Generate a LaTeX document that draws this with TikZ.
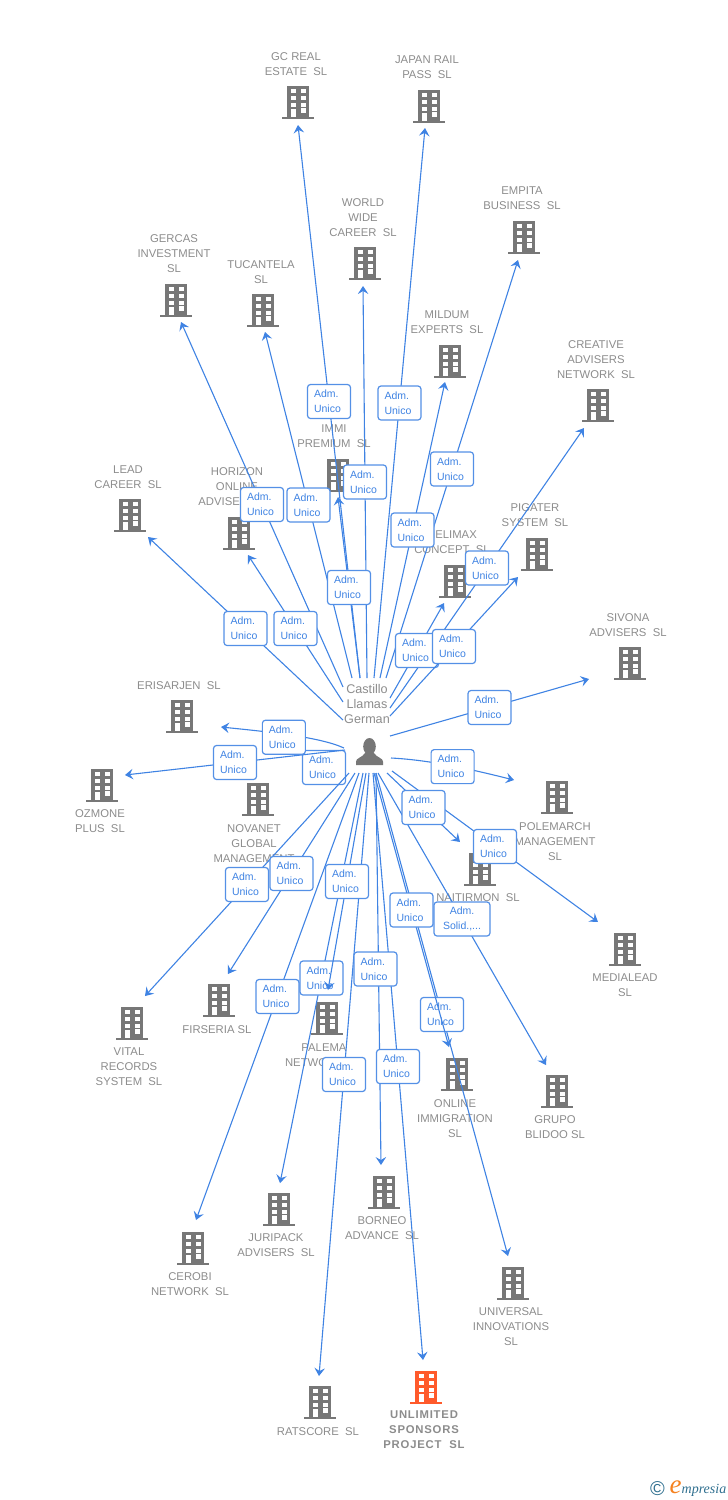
\documentclass[tikz,border=0pt]{standalone}
\usepackage{fontspec}
\setmainfont{Liberation Sans}
\newfontfamily\boldlbl{Liberation Sans}[LetterSpace=7]
\newfontfamily\logofont{Liberation Serif}
\usetikzlibrary{arrows.meta}

\definecolor{bldgray}{HTML}{777777}
\definecolor{bldorange}{HTML}{FF5A2B}
\definecolor{txtgray}{HTML}{8C8C8C}
\definecolor{edgeblue}{HTML}{3F83E3}
\definecolor{boxblue}{HTML}{5490E6}
\definecolor{logoblue}{HTML}{2F6F8F}
\definecolor{logoorange}{HTML}{F58220}

\tikzset{
  building/.style={minimum width=32pt,minimum height=34pt,inner sep=0pt,
    path picture={
      \begin{scope}[shift={(path picture bounding box.center)}]
        \fill[#1] (-11,-16) rectangle (11,16);
        \fill[#1] (-16,15) rectangle (16,17);
        \foreach \wy in {-12.4,-5.7,1.6} {
          \fill[white] (-6.9,\wy) rectangle (-2.5,\wy+3.8);
          \fill[white] (2.5,\wy) rectangle (7.5,\wy+3.8);
        }
        \fill[white] (-6.9,7.8) rectangle (-2.5,15);
        \fill[white] (2.5,6.8) rectangle (7.5,11.4);
      \end{scope}
    }},
  building/.default=bldgray,
  personicon/.style={minimum width=28pt,minimum height=28pt,inner sep=0pt,
    path picture={
      \begin{scope}[shift={(path picture bounding box.center)}]
        \fill[bldgray] (0,-5) ellipse (6.3 and 8.5);
        \fill[bldgray] (-13.5,13.5) -- (-13.5,10) .. controls (-13.5,6.5) and (-7,6) .. (-4,1)
          -- (4,1) .. controls (7,6) and (13.5,6.5) .. (13.5,10) -- (13.5,13.5) -- cycle;
      \end{scope}
    }},
  lbl/.style={text=txtgray,align=center,inner sep=0pt,yshift=-0.7pt,font=\fontsize{11.3}{15}\selectfont},
  mainlbl/.style={lbl,font=\boldlbl\bfseries\fontsize{11.3}{15}\selectfont},
  personlbl/.style={lbl,font=\fontsize{12.6}{15}\selectfont},
  edge/.style={edgeblue,line width=1.1pt,-{Stealth[length=8pt,width=10.5pt,inset=3pt]}},
  adm/.style={draw=boxblue,fill=white,line width=1.2pt,rounded corners=3pt,text=edgeblue,
    minimum height=34pt,inner ysep=0pt,inner xsep=6.5pt,text width=30pt,align=left,
    font=\fontsize{10.5}{15}\selectfont},
  admsol/.style={adm,inner xsep=6pt,text width=44pt,align=center}
}

\begin{document}
\begin{tikzpicture}[x=1pt,y=-1pt]
  \useasboundingbox (0,0) rectangle (728,1500);

  % companies
  \node (gc) at (298,101.5) [building] {};
  \node (gcl) at (296,63.5) [lbl] {GC REAL\\ESTATE\ \ SL};
  \node (japan) at (429,105.5) [building] {};
  \node (japanl) at (427,66.5) [lbl] {JAPAN RAIL\\PASS\ \ SL};
  \node (world) at (365,262.5) [building] {};
  \node (worldl) at (363,217) [lbl] {WORLD\\WIDE\\CAREER\ \ SL};
  \node (empita) at (524,236.5) [building] {};
  \node (empital) at (522,197.5) [lbl] {EMPITA\\BUSINESS\ \ SL};
  \node (gercas) at (176,299.5) [building] {};
  \node (gercasl) at (174,253) [lbl] {GERCAS\\INVESTMENT\\SL};
  \node (tucan) at (263,309.5) [building] {};
  \node (tucanl) at (261,271.5) [lbl] {TUCANTELA\\SL};
  \node (mildum) at (450,360.5) [building] {};
  \node (mildual) at (447,321.5) [lbl] {MILDUM\\EXPERTS\ \ SL};
  \node (creative) at (598,404.5) [building] {};
  \node (creativel) at (596,359) [lbl] {CREATIVE\\ADVISERS\\NETWORK\ \ SL};
  \node (immi) at (338,474.5) [building] {};
  \node (immil) at (334,435.5) [lbl] {IMMI\\PREMIUM\ \ SL};
  \node (lead) at (130,514.5) [building] {};
  \node (leadl) at (128,476.5) [lbl] {LEAD\\CAREER\ \ SL};
  \node (horizon) at (239,532.5) [building] {};
  \node (horizonl) at (237,486) [lbl] {HORIZON\\ONLINE\\ADVISERS\ \ SL};
  \node (pigater) at (537,553.5) [building] {};
  \node (pigaterl) at (535,514.5) [lbl] {PIGATER\\SYSTEM\ \ SL};
  \node (helimax) at (455,580.5) [building] {};
  \node (helimaxl) at (452,541.5) [lbl] {HELIMAX\\CONCEPT\ \ SL};
  \node (sivona) at (630,662.5) [building] {};
  \node (sivonal) at (628,624.5) [lbl] {SIVONA\\ADVISERS\ \ SL};
  \node (erisar) at (182,715.5) [building] {};
  \node (erisarl) at (179,685) [lbl] {ERISARJEN\ \ SL};
  \node (ozmone) at (102,784.5) [building] {};
  \node (ozmonel) at (100,820.5) [lbl] {OZMONE\\PLUS\ \ SL};
  \node (novanet) at (258,798.5) [building] {};
  \node (novanetl) at (254,843) [lbl] {NOVANET\\GLOBAL\\MANAGEMENT};
  \node (polem) at (557,796.5) [building] {};
  \node (poleml) at (555,841) [lbl] {POLEMARCH\\MANAGEMENT\\SL};
  \node (nait) at (480,868.5) [building] {};
  \node (naitl) at (478,897) [lbl] {NAITIRMON\ \ SL};
  \node (media) at (625,948.5) [building] {};
  \node (medial) at (625,984.5) [lbl] {MEDIALEAD\\SL};
  \node (vital) at (132,1022.5) [building] {};
  \node (vitall) at (129,1066) [lbl] {VITAL\\RECORDS\\SYSTEM\ \ SL};
  \node (firs) at (219,999.5) [building] {};
  \node (firsl) at (217,1029) [lbl] {FIRSERIA SL};
  \node (palema) at (327,1017.5) [building] {};
  \node (palemal) at (324,1054.5) [lbl] {PALEMA\\NETWORK\ \ SL};
  \node (online) at (457,1073.5) [building] {};
  \node (onlinel) at (455,1118) [lbl] {ONLINE\\IMMIGRATION\\SL};
  \node (grupo) at (557,1090.5) [building] {};
  \node (grupol) at (555,1126.5) [lbl] {GRUPO\\BLIDOO SL};
  \node (juri) at (279,1208.5) [building] {};
  \node (juril) at (276,1244.5) [lbl] {JURIPACK\\ADVISERS\ \ SL};
  \node (borneo) at (384,1191.5) [building] {};
  \node (borneol) at (382,1227.5) [lbl] {BORNEO\\ADVANCE\ \ SL};
  \node (cerobi) at (193,1247.5) [building] {};
  \node (cerobil) at (190,1283.5) [lbl] {CEROBI\\NETWORK\ \ SL};
  \node (univ) at (513,1282.5) [building] {};
  \node (univl) at (511,1326) [lbl] {UNIVERSAL\\INNOVATIONS\\SL};
  \node (rats) at (320,1401.5) [building] {};
  \node (ratsl) at (318,1431) [lbl] {RATSCORE\ \ SL};
  \node (unlim) at (426,1386.5) [building=bldorange] {};
  \node (unliml) at (424,1429) [mainlbl] {UNLIMITED\\SPONSORS\\PROJECT\ \ SL};

  % person
  \node (person) at (369.5,751.5) [personicon] {};
  \node (personl) at (367,703) [personlbl] {Castillo\\Llamas\\German};

  % ends of the connectors
  \coordinate (gca) at (360,678);      \coordinate (gcb) at (298,125);
  \coordinate (japana) at (374,678);   \coordinate (japanb) at (425,128);
  \coordinate (worlda) at (367,678);   \coordinate (worldb) at (363,286);
  \coordinate (empitaa) at (386,678);  \coordinate (empitab) at (518,260);
  \coordinate (gercasa) at (343,687);  \coordinate (gercasb) at (181,322);
  \coordinate (tucana) at (352,678);   \coordinate (tucanb) at (265,332);
  \coordinate (mildua) at (380,678);   \coordinate (mildub) at (445,382);
  \coordinate (creata) at (390,708);   \coordinate (creatb) at (584,428);
  \coordinate (immia) at (360,678);    \coordinate (immib) at (338,497);
  \coordinate (leada) at (343,720);    \coordinate (leadb) at (148,537);
  \coordinate (horiza) at (343,702);   \coordinate (horizb) at (248,555);
  \coordinate (pigata) at (390,716);   \coordinate (pigatb) at (518,577);
  \coordinate (helima) at (390,698);   \coordinate (helimb) at (444,603);
  \coordinate (sivona1) at (390,736);  \coordinate (sivonb) at (589,679);
  \coordinate (erisa) at (344,748);    \coordinate (erisb) at (221,727);
  \coordinate (ozma) at (345,750);     \coordinate (ozmb) at (125,775);
  \coordinate (nova) at (345,757);     \coordinate (novb) at (303,778);
  \coordinate (polema) at (391,758);   \coordinate (polemb) at (514,780);
  \coordinate (naita) at (387,773);    \coordinate (naitb) at (460,842);
  \coordinate (mediaa) at (392,771);   \coordinate (mediab) at (598,922);
  \coordinate (vitala) at (349,773);   \coordinate (vitalb) at (145,996);
  \coordinate (firsa) at (355,773);    \coordinate (firsb) at (228,974);
  \coordinate (palea) at (366,773);    \coordinate (paleb) at (328,990);
  \coordinate (onla) at (374,773);     \coordinate (onlb) at (449,1047);
  \coordinate (grupa) at (378,773);    \coordinate (grupb) at (546,1065);
  \coordinate (juria) at (363,773);    \coordinate (jurib) at (280,1183);
  \coordinate (borna) at (376,773);    \coordinate (bornb) at (381,1165);
  \coordinate (ceroa) at (359,773);    \coordinate (cerob) at (196,1220);
  \coordinate (univa) at (376,773);    \coordinate (univb) at (508,1256);
  \coordinate (ratsa) at (369,773);    \coordinate (ratsb) at (319,1376);
  \coordinate (unla) at (373,773);     \coordinate (unlb) at (423,1360);

  % connectors, later ones lie over the boxes of earlier ones
  \draw[edge] (gca) -- node[adm] (gcx) {Adm.\\Unico} (gcb);
  \draw[edge] (japana) -- node[adm] (japanx) {Adm.\\Unico} (japanb);
  \draw[edge] (empitaa) -- node[adm] (empitax) {Adm.\\Unico} (empitab);
  \draw[edge] (gercasa) -- node[adm] (gercasx) {Adm.\\Unico} (gercasb);
  \draw[edge] (tucana) -- node[adm] (tucanx) {Adm.\\Unico} (tucanb);
  \draw[edge] (worlda) -- node[adm] (worldx) {Adm.\\Unico} (worldb);
  \draw[edge] (immia) -- node[adm] (immix) {Adm.\\Unico} (immib);
  \draw[edge] (mildua) -- node[adm] (mildux) {Adm.\\Unico} (mildub);
  \draw[edge] (creata) -- node[adm] (creatx) {Adm.\\Unico} (creatb);
  \draw[edge] (helima) -- node[adm] (helimx) {Adm.\\Unico} (helimb);
  \draw[edge] (pigata) -- node[adm] (pigatx) {Adm.\\Unico} (pigatb);
  \draw[edge] (leada) -- node[adm] (leadx) {Adm.\\Unico} (leadb);
  \draw[edge] (horiza) -- node[adm] (horizx) {Adm.\\Unico} (horizb);
  \draw[edge] (sivona1) -- node[adm] (sivonx) {Adm.\\Unico} (sivonb);
  \draw[edge] (nova) -- node[adm] (novx) {Adm.\\Unico} (novb);
  \draw[edge] (ozma) -- node[adm] (ozmx) {Adm.\\Unico} (ozmb);
  \draw[edge] (erisa) .. controls (320,737) and (270,732) .. node[adm,xshift=-8pt,yshift=-2pt] (erisx) {Adm.\\Unico} (erisb);
  \draw[edge] (polema) .. controls (430,760) and (470,769) .. node[adm,xshift=2pt,yshift=-1pt] (polemx) {Adm.\\Unico} (polemb);
  \draw[edge] (grupa) -- node[admsol] (grupx) {Adm.\\Solid.,...} (grupb);
  \draw[edge] (mediaa) -- node[adm] (mediax) {Adm.\\Unico} (mediab);
  \draw[edge] (naita) -- node[adm] (naitx) {Adm.\\Unico} (naitb);
  \draw[edge] (vitala) -- node[adm] (vitalx) {Adm.\\Unico} (vitalb);
  \draw[edge] (firsa) -- node[adm] (firsx) {Adm.\\Unico} (firsb);
  \draw[edge] (ceroa) -- node[adm] (cerox) {Adm.\\Unico} (cerob);
  \draw[edge] (ratsa) -- node[adm] (ratsx) {Adm.\\Unico} (ratsb);
  \draw[edge] (juria) -- node[adm] (jurix) {Adm.\\Unico} (jurib);
  \draw[edge] (palea) -- node[adm] (palex) {Adm.\\Unico} (paleb);
  \draw[edge] (borna) -- (bornb);
  \draw[edge] (unla) -- node[adm] (unlx) {Adm.\\Unico} (unlb);
  \path (borna) -- node[adm,xshift=-3pt] (bornx) {Adm.\\Unico} (bornb);
  \draw[edge] (univa) -- node[adm] (univx) {Adm.\\Unico} (univb);
  \draw[edge] (onla) -- node[adm] (onlx) {Adm.\\Unico} (onlb);

  % logo
  \node (logoc) at (657.5,1489) [text=logoblue,inner sep=0pt,font=\fontsize{20}{20}\selectfont] {©};
  \node (logo) at (698,1489) [inner sep=0pt,font=\logofont\itshape\fontsize{14}{15}\selectfont]
    {\textcolor{logoorange}{\fontsize{27}{27}\selectfont e}\textcolor{logoblue}{mpresia}};
\end{tikzpicture}
\end{document}
